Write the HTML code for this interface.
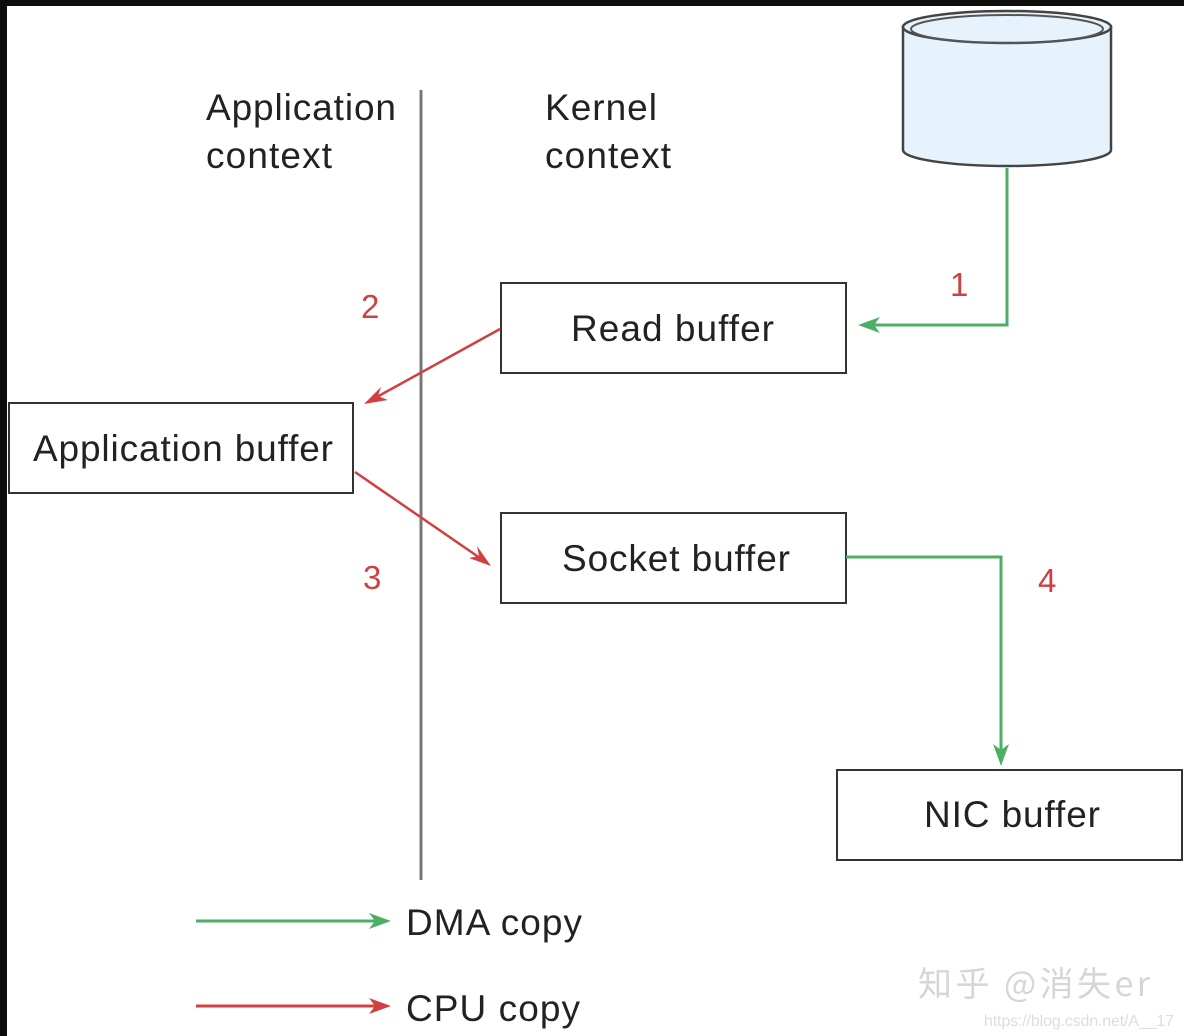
<!DOCTYPE html>
<html><head><style>
html,body{margin:0;padding:0;}
body{width:1184px;height:1036px;background:#0d0d0d;position:relative;overflow:hidden;font-family:"Liberation Sans","Noto Sans CJK SC",sans-serif;}
#c{position:absolute;left:7px;top:6px;width:1177px;height:1030px;background:#fff;}
svg{position:absolute;left:0;top:0;}
</style></head><body>
<div id="c"></div>
<svg width="1184" height="1036" viewBox="0 0 1184 1036">
<!-- cylinder -->
<path d="M903,27 L903,150 A104,16 0 0 0 1111,150 L1111,27 Z" fill="#e6f2fc" stroke="#444" stroke-width="2.5"/>
<ellipse cx="1007" cy="27" rx="104" ry="16" fill="#e6f2fc" stroke="#444" stroke-width="2.5"/>
<ellipse cx="1007" cy="29" rx="96" ry="14" fill="none" stroke="#555" stroke-width="2"/>
<!-- vertical line -->
<line x1="421" y1="90" x2="421" y2="880" stroke="#777" stroke-width="3"/>
<!-- boxes -->
<rect x="501" y="283" width="345" height="90" fill="#fff" stroke="#333" stroke-width="2"/>
<rect x="9" y="403" width="344" height="90" fill="#fff" stroke="#333" stroke-width="2"/>
<rect x="501" y="513" width="345" height="90" fill="#fff" stroke="#333" stroke-width="2"/>
<rect x="837" y="770" width="345" height="90" fill="#fff" stroke="#333" stroke-width="2"/>
<!-- green connectors -->
<polyline points="1007,168 1007,325 870,325" fill="none" stroke="#4caf64" stroke-width="3"/>
<polygon points="858,325 880,317 874,325 880,333" fill="#4caf64"/>
<polyline points="846,557 1001,557 1001,755" fill="none" stroke="#4caf64" stroke-width="3"/>
<polygon points="1001,766 993,744 1001,750 1009,744" fill="#4caf64"/>
<!-- red connectors -->
<line x1="500" y1="329" x2="375" y2="398" stroke="#d04040" stroke-width="2.5"/>
<polygon points="364,404 381,387 378,396 388,400" fill="#d04040"/>
<line x1="355" y1="472" x2="480" y2="558" stroke="#d04040" stroke-width="2.5"/>
<polygon points="491,566 469,558 479,556 477,546" fill="#d04040"/>
<!-- legend -->
<line x1="196" y1="921" x2="380" y2="921" stroke="#4caf64" stroke-width="3"/>
<polygon points="391,921 369,913 375,921 369,929" fill="#4caf64"/>
<line x1="196" y1="1006" x2="380" y2="1006" stroke="#d04040" stroke-width="3"/>
<polygon points="391,1006 369,998 375,1006 369,1014" fill="#d04040"/>
<g font-family="Liberation Sans, sans-serif" fill="#222" font-size="37">
<text x="206" y="120" textLength="190">Application</text>
<text x="206" y="168" textLength="126">context</text>
<text x="545" y="120" textLength="112">Kernel</text>
<text x="545" y="168" textLength="126">context</text>
<text x="571" y="341" textLength="203">Read buffer</text>
<text x="33" y="461" textLength="300">Application buffer</text>
<text x="562" y="571" textLength="228">Socket buffer</text>
<text x="924" y="827" textLength="176">NIC buffer</text>
<text x="406" y="935" textLength="176">DMA copy</text>
<text x="406" y="1021" textLength="174">CPU copy</text>
</g>
<g font-family="Liberation Sans, sans-serif" fill="#d04040" font-size="33">
<text x="950" y="296">1</text>
<text x="361" y="318">2</text>
<text x="363" y="589">3</text>
<text x="1038" y="592">4</text>
</g>
<text x="918" y="996" font-family="Noto Sans CJK SC, sans-serif" font-size="34" fill="#ccc" opacity="0.8" textLength="232">知乎 @消失er</text>
<text x="984" y="1026" font-family="Liberation Sans, sans-serif" font-size="16" fill="#ddd" textLength="190">https://blog.csdn.net/A__17</text>
</svg>
</body></html>
